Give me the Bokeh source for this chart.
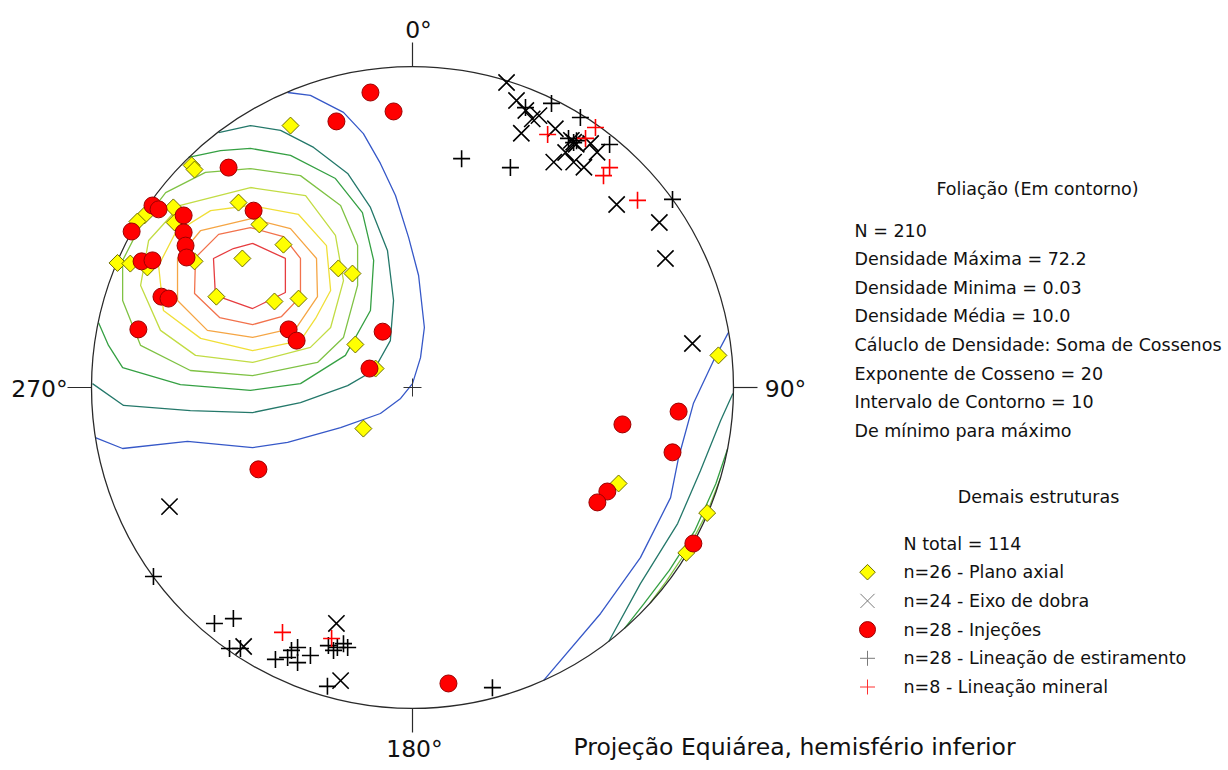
import numpy as np
from bokeh.plotting import figure
from bokeh.models import Range1d
from bokeh.core.properties import value
from bokeh.embed import file_html
from bokeh.resources import INLINE

# ---------------- data: equal-area net, lower hemisphere, unit radius (east, north) ----------------
plano_axial_e = [-0.380, -0.688, -0.679, -0.542, -0.745, -0.835, -0.857, -0.741, -0.477, -0.402,
                 -0.530, -0.919, -0.879, -0.826, -0.679, -0.231, -0.187, -0.611, -0.430, -0.355,
                 -0.178, -0.115, -0.153, 0.953, 0.642, 0.918, 0.853]
plano_axial_n = [0.816, 0.692, 0.679, 0.576, 0.561, 0.536, 0.517, 0.514, 0.508, 0.445,
                 0.402, 0.388, 0.386, 0.374, 0.393, 0.371, 0.355, 0.283, 0.268, 0.277,
                 0.134, 0.059, -0.128, 0.100, -0.299, -0.391, -0.515]

injecoes_e = [-0.131, -0.059, -0.237, -0.573, -0.495, -0.810, -0.791, -0.875, -0.713, -0.713,
              -0.707, -0.704, -0.844, -0.810, -0.782, -0.760, -0.854, -0.386, -0.361, -0.093,
              -0.134, -0.480, 0.829, 0.654, 0.810, 0.607, 0.576, 0.875, 0.112]
injecoes_n = [0.919, 0.860, 0.829, 0.685, 0.551, 0.567, 0.555, 0.486, 0.536, 0.483,
              0.442, 0.405, 0.393, 0.396, 0.283, 0.277, 0.181, 0.181, 0.146, 0.174,
              0.059, -0.255, -0.075, -0.115, -0.202, -0.324, -0.358, -0.486, -0.922]

eixo_dobra_e = [0.293, 0.324, 0.353, 0.373, 0.394, 0.339, 0.445, 0.495, 0.502, 0.510,
                0.440, 0.502, 0.534, 0.575, 0.555, 0.477, 0.636, 0.769, 0.788, 0.872,
                -0.757, -0.526, -0.237, -0.224]
eixo_dobra_n = [0.950, 0.894, 0.863, 0.837, 0.847, 0.792, 0.806, 0.770, 0.764, 0.758,
                0.702, 0.702, 0.686, 0.733, 0.760, 0.732, 0.570, 0.514, 0.402, 0.137,
                -0.371, -0.807, -0.735, -0.913]

lin_estiramento_e = [0.352, 0.433, 0.523, 0.502, 0.486, 0.511, 0.614, 0.810, 0.153, 0.305,
                     -0.807, -0.617, -0.558, -0.570, -0.536, -0.427, -0.389, -0.377, -0.358, -0.358,
                     -0.318, -0.262, -0.234, -0.215, -0.202, -0.246, -0.265, 0.249]
lin_estiramento_n = [0.872, 0.885, 0.841, 0.763, 0.776, 0.769, 0.757, 0.586, 0.713, 0.685,
                     -0.589, -0.735, -0.720, -0.813, -0.813, -0.847, -0.841, -0.819, -0.810, -0.857,
                     -0.835, -0.804, -0.810, -0.798, -0.810, -0.819, -0.931, -0.935]

lin_mineral_e = [0.570, 0.421, 0.539, 0.614, 0.595, 0.701, -0.405, -0.252]
lin_mineral_n = [0.810, 0.788, 0.776, 0.685, 0.660, 0.583, -0.763, -0.782]

# foliation density contours (innermost -> outermost)
cont1_e = [-0.498, -0.396, -0.396, -0.498, -0.614, -0.620, -0.558, -0.498]
cont1_n = [0.449, 0.402, 0.296, 0.246, 0.287, 0.402, 0.433, 0.449]
cont2_e = [-0.505, -0.402, -0.349, -0.349, -0.408, -0.498, -0.601, -0.679, -0.676, -0.604, -0.505]
cont2_n = [0.498, 0.470, 0.402, 0.283, 0.221, 0.196, 0.218, 0.293, 0.405, 0.477, 0.498]
cont3_e = [-0.502, -0.380, -0.299, -0.296, -0.361, -0.498, -0.639, -0.732, -0.732, -0.660, -0.502]
cont3_n = [0.526, 0.495, 0.402, 0.283, 0.187, 0.156, 0.178, 0.271, 0.402, 0.489, 0.526]
cont4_e = [-0.505, -0.355, -0.268, -0.255, -0.302, -0.349, -0.498, -0.660, -0.776, -0.791, -0.738, -0.629, -0.505]
cont4_n = [0.567, 0.539, 0.442, 0.302, 0.215, 0.146, 0.115, 0.153, 0.240, 0.380, 0.483, 0.551, 0.567]
cont5_e = [-0.505, -0.333, -0.240, -0.215, -0.255, -0.318, -0.498, -0.676, -0.785, -0.847, -0.822, -0.723, -0.505]
cont5_n = [0.623, 0.598, 0.474, 0.333, 0.187, 0.125, 0.078, 0.100, 0.178, 0.318, 0.458, 0.567, 0.623]
cont6_e = [-0.505, -0.349, -0.224, -0.171, -0.171, -0.215, -0.296, -0.498, -0.692, -0.847, -0.903, -0.903,
           -0.847, -0.769, -0.645, -0.505]
cont6_n = [0.682, 0.660, 0.567, 0.442, 0.318, 0.156, 0.078, 0.037, 0.053, 0.131, 0.271, 0.396,
           0.505, 0.607, 0.670, 0.682]
cont7_e = [-0.698, -0.598, -0.505, -0.380, -0.240, -0.156, -0.121, -0.131, -0.209, -0.349, -0.505,
           -0.723, -0.903, -0.947, -0.978]
cont7_n = [0.717, 0.738, 0.745, 0.723, 0.651, 0.545, 0.396, 0.240, 0.100, 0.012, -0.009,
           0.009, 0.062, 0.131, 0.202]
cont8_e = [-0.604, -0.505, -0.411, -0.308, -0.202, -0.131, -0.078, -0.059, -0.069, -0.121, -0.202,
           -0.349, -0.498, -0.692, -0.900, -0.997]
cont8_n = [0.794, 0.816, 0.801, 0.748, 0.667, 0.561, 0.427, 0.271, 0.146, 0.053, 0.006,
           -0.047, -0.078, -0.072, -0.056, 0.012]
cont9_e = [-0.389, -0.318, -0.215, -0.153, -0.100, -0.053, -0.012, 0.019, 0.037, 0.025, 0.000,
           -0.037, -0.100, -0.224, -0.389, -0.498, -0.701, -0.903, -0.988]
cont9_n = [0.919, 0.910, 0.857, 0.791, 0.698, 0.598, 0.467, 0.349, 0.187, 0.093, 0.012,
           -0.034, -0.081, -0.125, -0.171, -0.187, -0.168, -0.190, -0.156]
# parts of the outer contours that wrap around to the opposite side of the net
cont6w_e = [0.960, 0.920, 0.860, 0.790, 0.740]
cont6w_n = [-0.280, -0.385, -0.500, -0.605, -0.672]
cont7w_e = [0.982, 0.945, 0.880, 0.800, 0.720, 0.660]
cont7w_n = [-0.190, -0.300, -0.445, -0.570, -0.675, -0.751]
cont8w_e = [0.998, 0.960, 0.897, 0.826, 0.710, 0.611]
cont8w_n = [-0.019, -0.103, -0.259, -0.424, -0.611, -0.792]
cont9w_e = [0.984, 0.938, 0.875, 0.829, 0.804, 0.710, 0.586, 0.408]
cont9w_n = [0.171, 0.084, -0.050, -0.218, -0.343, -0.530, -0.704, -0.913]

direction_labels = ["0°", "90°", "180°", "270°"]
projection_label = "Projeção Equiárea, hemisfério inferior"
info_title = "Foliação (Em contorno)"
info_lines = ["N = 210", "Densidade Máxima = 72.2", "Densidade Minima = 0.03", "Densidade Média = 10.0",
              "Cáluclo de Densidade: Soma de Cossenos", "Exponente de Cosseno = 20",
              "Intervalo de Contorno = 10", "De mínimo para máximo"]
legend_title = "Demais estruturas"
legend_total = "N total = 114"
legend_labels = ["n=26 - Plano axial", "n=24 - Eixo de dobra", "n=28 - Injeções",
                 "n=28 - Lineação de estiramento", "n=8 - Lineação mineral"]

# ---------------- layout ----------------
W, H = 1228, 770
R_PX = 321.0
CX_PAGE, CY_PAGE = 412.0, 387.0


def P(px, py):
    """picture pixel -> net units (layout helper for labels/legend)"""
    return (px - CX_PAGE) / R_PX, (CY_PAGE - py) / R_PX


x0, y1 = P(0, 0)
x1, y0 = P(W, H)

p = figure(width=W, height=H, x_range=Range1d(x0, x1), y_range=Range1d(y0, y1),
           output_backend="svg", toolbar_location=None, min_border=0,
           x_axis_location=None, y_axis_location=None,
           background_fill_color="white", border_fill_color="white")
p.grid.visible = False
p.outline_line_color = None

FONT = value("DejaVu Sans")

contour_colors = ["#e63c3f", "#f2724c", "#f5a544", "#f0df38", "#c2dc44", "#7fc244", "#35a043", "#24786a", "#3658c8"]
contours = [(cont1_e, cont1_n), (cont2_e, cont2_n), (cont3_e, cont3_n), (cont4_e, cont4_n), (cont5_e, cont5_n),
            (cont6_e, cont6_n), (cont7_e, cont7_n), (cont8_e, cont8_n), (cont9_e, cont9_n)]
for (ce, cn), col in zip(contours, contour_colors):
    p.line(ce, cn, line_color=col, line_width=1.3)
wraps = [(cont6w_e, cont6w_n, contour_colors[5]), (cont7w_e, cont7w_n, contour_colors[6]),
         (cont8w_e, cont8w_n, contour_colors[7]), (cont9w_e, cont9w_n, contour_colors[8])]
for ce, cn, col in wraps:
    p.line(ce, cn, line_color=col, line_width=1.3)

# mask outside the primitive circle
p.annulus(x=[0], y=[0], inner_radius=1.003, outer_radius=5, fill_color="white", line_color=None)

# primitive circle, ticks, centre
p.circle(x=[0], y=[0], radius=1, fill_color=None, line_color="#2a2a2a", line_width=1.3)
tl = 24 / R_PX
p.segment(x0=[0, 0, 1, -1], y0=[1, -1, 0, 0], x1=[0, 0, 1 + tl, -1 - tl], y1=[1 + tl, -1 - tl, 0, 0],
          line_color="#2a2a2a", line_width=1.2)
cc = 9 / R_PX
p.segment(x0=[-cc, 0], y0=[0, -cc], x1=[cc, 0], y1=[0, cc], line_color="#333333", line_width=1)

# data markers
p.scatter(plano_axial_e, plano_axial_n, marker="square", angle=np.pi / 4, size=12,
          fill_color="#ffff00", line_color="#6e6e00", line_width=1)
p.scatter(injecoes_e, injecoes_n, marker="circle", size=17, fill_color="#ff0000",
          line_color="#9a0000", line_width=1)
p.scatter(eixo_dobra_e, eixo_dobra_n, marker="x", size=23, line_color="#000000", line_width=1.6)
p.scatter(lin_estiramento_e, lin_estiramento_n, marker="cross", size=17, line_color="#000000", line_width=1.6)
p.scatter(lin_mineral_e, lin_mineral_n, marker="cross", size=17, line_color="#ff0000", line_width=1.6)

# direction labels
dl_pos = [P(418, 29), P(785, 388), P(414, 748), P(39, 388)]
p.text(x=[q[0] for q in dl_pos], y=[q[1] for q in dl_pos], text=direction_labels,
       text_font=FONT, text_font_size=value("23.5px"), text_color="#111111",
       text_align="center", text_baseline="alphabetic")
tp = P(573, 746)
p.text(x=[tp[0]], y=[tp[1]], text=[projection_label], text_font=FONT, text_font_size=value("23.5px"),
       text_color="#111111", text_align="left", text_baseline="alphabetic")

# info block
it = P(1037, 188)
p.text(x=[it[0]], y=[it[1]], text=[info_title], text_font=FONT, text_font_size=value("17.5px"),
       text_color="#111111", text_align="center", text_baseline="alphabetic")
il = [P(854, 230 + 28.6 * i) for i in range(len(info_lines))]
p.text(x=[q[0] for q in il], y=[q[1] for q in il], text=info_lines, text_font=FONT,
       text_font_size=value("17.5px"), text_color="#111111", text_align="left", text_baseline="alphabetic")

# legend
lt = P(1038, 496)
p.text(x=[lt[0]], y=[lt[1]], text=[legend_title], text_font=FONT, text_font_size=value("17.5px"),
       text_color="#111111", text_align="center", text_baseline="alphabetic")
rows = [P(903, 543 + 28.7 * i) for i in range(len(legend_labels) + 1)]
p.text(x=[q[0] for q in rows], y=[q[1] for q in rows], text=[legend_total] + legend_labels, text_font=FONT,
       text_font_size=value("17.5px"), text_color="#111111", text_align="left", text_baseline="alphabetic")
mk = [P(867, 543 + 28.7 * (i + 1)) for i in range(len(legend_labels))]
p.scatter([mk[0][0]], [mk[0][1]], marker="square", angle=np.pi / 4, size=11,
          fill_color="#ffff00", line_color="#6e6e00", line_width=1)
p.scatter([mk[1][0]], [mk[1][1]], marker="x", size=20, line_color="#7a7a7a", line_width=1)
p.scatter([mk[2][0]], [mk[2][1]], marker="circle", size=16, fill_color="#ff0000", line_color="#9a0000", line_width=1)
p.scatter([mk[3][0]], [mk[3][1]], marker="cross", size=15, line_color="#7a7a7a", line_width=1)
p.scatter([mk[4][0]], [mk[4][1]], marker="cross", size=15, line_color="#ff3030", line_width=1)

open("out.html", "w").write(file_html(p, INLINE))
